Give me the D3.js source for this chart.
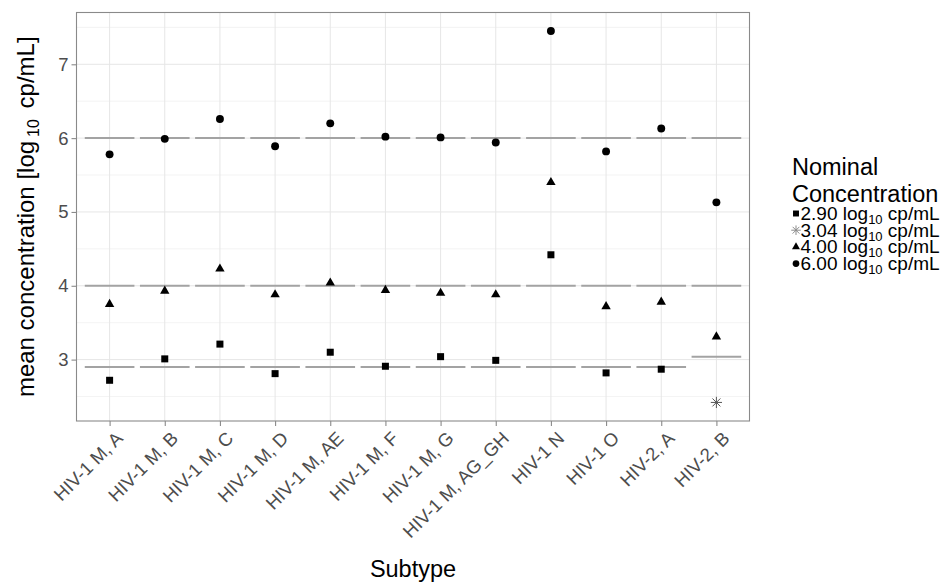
<!DOCTYPE html>
<html>
<head>
<meta charset="utf-8">
<script src="https://cdn.jsdelivr.net/npm/d3@7"></script>
<style>
  html, body { margin: 0; padding: 0; background: #fff; }
  svg { display: block; font-family: "Liberation Sans", Arial, Helvetica, sans-serif; }
</style>
</head>
<body>
<svg id="chart" width="946" height="582"></svg>
<script>
// Subtypes along the x axis
const subtypes = ["HIV-1 M, A", "HIV-1 M, B", "HIV-1 M, C", "HIV-1 M, D", "HIV-1 M, AE",
  "HIV-1 M, F", "HIV-1 M, G", "HIV-1 M, AG_GH", "HIV-1 N", "HIV-1 O", "HIV-2, A", "HIV-2, B"];

// Mean measured concentration (log10 cp/mL) per nominal level; null = level not tested
const conc290 = [2.72, 3.01, 3.21, 2.81, 3.10, 2.91, 3.04, 2.99, 4.42, 2.82, 2.87, null];
const conc304 = [null, null, null, null, null, null, null, null, null, null, null, 2.42];
const conc400 = [3.75, 3.93, 4.23, 3.88, 4.04, 3.94, 3.90, 3.88, 5.40, 3.72, 3.78, 3.31];
const conc600 = [5.78, 5.99, 6.26, 5.89, 6.20, 6.02, 6.01, 5.94, 7.45, 5.82, 6.13, 5.13];

// Nominal levels, their legend labels and point shapes
const nominalLevels = [2.90, 3.04, 4.00, 6.00];
const nominalLabels = ["2.90", "3.04", "4.00", "6.00"];
const nominalShapes = ["square", "star", "triangle", "circle"];
const seriesValues = [conc290, conc304, conc400, conc600];

// Axis ticks
const yMajorTicks = [3, 4, 5, 6, 7];
const yMinorTicks = [2.5, 3.5, 4.5, 5.5, 6.5, 7.5];

const svg = d3.select("#chart");
const panel = { left: 76.5, right: 749.5, top: 12.5, bottom: 421 };

const x = d3.scalePoint().domain(subtypes).range([panel.left, panel.right]).padding(0.6);
const step = x.step();

// y range covers all values, expanded by 5% on each side
const allVals = seriesValues.flat().filter(v => v != null).concat(nominalLevels);
const vMin = d3.min(allVals), vMax = d3.max(allVals);
const pad = (vMax - vMin) * 0.05;
const y = d3.scaleLinear().domain([vMin - pad, vMax + pad]).range([panel.bottom, panel.top]);

// Grid
const grid = svg.append("g");
grid.selectAll(".minor").data(yMinorTicks).join("line")
  .attr("x1", panel.left).attr("x2", panel.right)
  .attr("y1", d => y(d)).attr("y2", d => y(d))
  .attr("stroke", "#f0f0f0").attr("stroke-width", 0.8);
grid.selectAll(".major").data(yMajorTicks).join("line")
  .attr("x1", panel.left).attr("x2", panel.right)
  .attr("y1", d => y(d)).attr("y2", d => y(d))
  .attr("stroke", "#e6e6e6").attr("stroke-width", 1);
grid.selectAll(".vmajor").data(subtypes).join("line")
  .attr("x1", d => x(d)).attr("x2", d => x(d))
  .attr("y1", panel.top).attr("y2", panel.bottom)
  .attr("stroke", "#e6e6e6").attr("stroke-width", 1);

// Nominal reference segments, one per subtype and tested level
const segs = [];
seriesValues.forEach((vals, si) => {
  vals.forEach((v, i) => {
    if (v != null) segs.push({ cat: subtypes[i], level: nominalLevels[si] });
  });
});
svg.append("g").selectAll("line").data(segs).join("line")
  .attr("x1", d => x(d.cat) - 0.45 * step)
  .attr("x2", d => x(d.cat) + 0.45 * step)
  .attr("y1", d => y(d.level)).attr("y2", d => y(d.level))
  .attr("stroke", "#a3a3a3").attr("stroke-width", 2);

// Point glyphs
function drawShape(g, shape, cx, cy, scale, starColor) {
  const s = scale || 1;
  if (shape === "square") {
    const h = 3.5 * s;
    g.append("rect").attr("x", cx - h).attr("y", cy - h).attr("width", 2 * h).attr("height", 2 * h).attr("fill", "#000");
  } else if (shape === "circle") {
    g.append("circle").attr("cx", cx).attr("cy", cy).attr("r", 3.95 * s).attr("fill", "#000");
  } else if (shape === "triangle") {
    const r = 5.4 * s, hw = 4.7 * s;
    g.append("path")
      .attr("d", `M${cx},${cy - r}L${cx + hw},${cy + r / 2}L${cx - hw},${cy + r / 2}Z`)
      .attr("fill", "#000");
  } else if (shape === "star") {
    const r = 5.6 * s, d = r * Math.SQRT1_2;
    const p = d3.path();
    p.moveTo(cx - r, cy); p.lineTo(cx + r, cy);
    p.moveTo(cx, cy - r); p.lineTo(cx, cy + r);
    p.moveTo(cx - d, cy - d); p.lineTo(cx + d, cy + d);
    p.moveTo(cx - d, cy + d); p.lineTo(cx + d, cy - d);
    g.append("path").attr("d", p.toString()).attr("stroke", starColor || "#555").attr("stroke-width", 1).attr("fill", "none");
  }
}

const pts = svg.append("g");
seriesValues.forEach((vals, si) => {
  vals.forEach((v, i) => {
    if (v != null) drawShape(pts, nominalShapes[si], x(subtypes[i]), y(v), 1);
  });
});

// Panel border
svg.append("rect")
  .attr("x", panel.left).attr("y", panel.top)
  .attr("width", panel.right - panel.left).attr("height", panel.bottom - panel.top)
  .attr("fill", "none").attr("stroke", "#8a8a8a").attr("stroke-width", 1.1);

// Y axis
const yAxis = svg.append("g").attr("transform", `translate(${panel.left},0)`)
  .call(d3.axisLeft(y).tickValues(yMajorTicks).tickSize(5).tickPadding(3).tickFormat(d3.format("d")));
yAxis.select(".domain").remove();
yAxis.selectAll(".tick line").attr("stroke", "#8a8a8a").attr("stroke-width", 1.1);
yAxis.selectAll(".tick text").attr("fill", "#4d4d4d").style("font-size", "18.5px")
  .style("font-family", "'Liberation Sans', Arial, sans-serif");

// X axis
const xAxis = svg.append("g").attr("transform", `translate(0,${panel.bottom})`)
  .call(d3.axisBottom(x).tickSize(5).tickFormat(() => ""));
xAxis.select(".domain").remove();
xAxis.selectAll(".tick line").attr("stroke", "#8a8a8a").attr("stroke-width", 1.1);

svg.append("g").selectAll("text").data(subtypes).join("text")
  .attr("transform", d => `translate(${x(d) + 5},${panel.bottom + 9}) rotate(-45)`)
  .attr("text-anchor", "end")
  .attr("dy", "0.72em")
  .attr("fill", "#4d4d4d")
  .style("font-size", "18.5px")
  .text(d => d);

// Axis titles
svg.append("text")
  .attr("x", (panel.left + panel.right) / 2).attr("y", 577)
  .attr("text-anchor", "middle").attr("fill", "#000")
  .style("font-size", "23.5px").text("Subtype");

const yTitle = svg.append("text")
  .attr("transform", `translate(34,${(panel.top + panel.bottom) / 2}) rotate(-90)`)
  .attr("text-anchor", "middle").attr("fill", "#000")
  .style("font-size", "24px");
yTitle.append("tspan").text("mean concentration [log");
yTitle.append("tspan").attr("dx", 4).attr("dy", 5).style("font-size", "16px").text("10");
yTitle.append("tspan").attr("dx", 4).attr("dy", -5).text(" cp/mL]");

// Legend
const lg = svg.append("g").attr("transform", "translate(792,0)");
lg.append("text").attr("x", 0).attr("y", 175).style("font-size", "23.5px").attr("fill", "#000").text("Nominal");
lg.append("text").attr("x", 0).attr("y", 201.5).style("font-size", "23.5px").attr("fill", "#000").text("Concentration");
nominalLabels.forEach((lab, i) => {
  const cy = 213 + i * 16.7;
  drawShape(lg, nominalShapes[i], 4, cy + 0.5, 0.85, "#8c8c8c");
  const t = lg.append("text").attr("x", 8.5).attr("y", cy + 6.8).style("font-size", "19px").attr("fill", "#000");
  t.append("tspan").text(lab + " log");
  t.append("tspan").attr("dy", 4).style("font-size", "13px").text("10");
  t.append("tspan").attr("dy", -4).text(" cp/mL");
});
</script>
</body>
</html>
